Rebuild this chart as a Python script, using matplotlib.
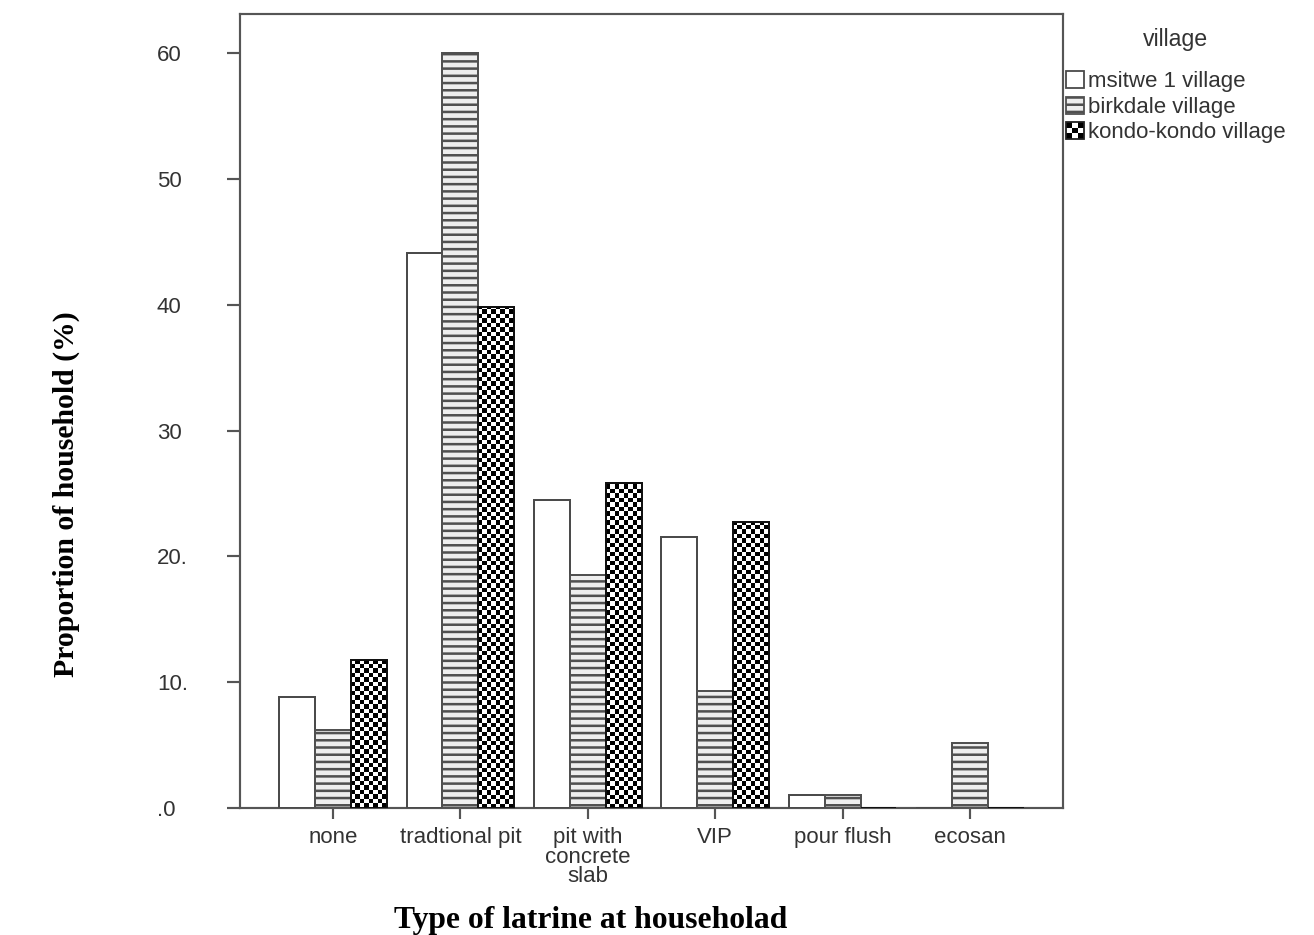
"""Latrine type by village, grouped bar chart (SPSS style)."""

import matplotlib
matplotlib.use("Agg")
import matplotlib.pyplot as plt
import numpy as np
from matplotlib.colors import ListedColormap
from matplotlib.legend_handler import HandlerBase
from matplotlib.patches import Patch, Rectangle

categories = ["none", "tradtional pit", "pit with\nconcrete\nslab", "VIP",
              "pour flush", "ecosan"]
villages = ["msitwe 1 village", "birkdale village", "kondo-kondo village"]
msitwe = [8.8, 44.1, 24.5, 21.5, 1.0, 0.0]
birkdale = [6.2, 60.0, 18.5, 9.3, 1.0, 5.2]
kondo = [11.8, 39.8, 25.8, 22.7, 0.0, 0.0]
ytick_vals = [0, 10, 20, 30, 40, 50, 60]
ytick_text = [".0", "10.", "20.", "30", "40", "50", "60"]

DPI = 130
EDGE = "#4a4a4a"
TXT = "#333333"
SANS = "Liberation Sans"
SERIF = "Liberation Serif"

plt.rcParams["hatch.linewidth"] = 1.4
plt.rcParams["font.family"] = SANS


class CheckerHandler(HandlerBase):
    def create_artists(self, legend, orig_handle, xdescent, ydescent,
                       width, height, fontsize, trans):
        n = 3
        cw, ch = width / n, height / n
        out = []
        for i in range(n):
            for j in range(n):
                c = "black" if (i + j) % 2 == 0 else "white"
                out.append(Rectangle((-xdescent + i * cw, -ydescent + j * ch), cw, ch,
                                     facecolor=c, edgecolor="none", transform=trans))
        out.append(Rectangle((-xdescent, -ydescent), width, height, facecolor="none",
                             edgecolor="#222222", linewidth=1.0, transform=trans))
        return out


fig = plt.figure(figsize=(1314 / DPI, 935 / DPI), dpi=DPI)
ax = fig.add_axes([240 / 1314, 1 - 808 / 935, 823 / 1314, 794 / 935])

x = np.arange(len(categories))
w = 0.282
ax.set_xlim(-0.73, 5.73)
ax.set_ylim(0, 63.1)

ax.bar(x - w, msitwe, w, facecolor="white", edgecolor=EDGE, linewidth=1.1, zorder=3)
ax.bar(x, birkdale, w, facecolor="#eeeeee", edgecolor="#505050", hatch="---",
       linewidth=1.1, zorder=3)
kbars = ax.bar(x + w, kondo, w, facecolor="none", edgecolor="#111111",
               linewidth=1.1, zorder=4)

# checkerboard fill for kondo-kondo bars
cmap = ListedColormap(["white", "black"])
for b in kbars:
    h = b.get_height()
    if h <= 0:
        continue
    x0, bw = b.get_x(), b.get_width()
    p0 = ax.transData.transform((x0, 0))
    p1 = ax.transData.transform((x0 + bw, h))
    ncols = 8
    cell = (p1[0] - p0[0]) / ncols
    nrows = max(1, int(round((p1[1] - p0[1]) / cell)))
    ii, jj = np.indices((nrows, ncols))
    top = nrows * cell / (p1[1] - p0[1]) * h
    img = ax.imshow((ii + jj) % 2, cmap=cmap, origin="lower", aspect="auto",
                    interpolation="nearest", extent=(x0, x0 + bw, 0, top), zorder=3)
    img.set_clip_path(b)
ax.set_xlim(-0.73, 5.73)
ax.set_ylim(0, 63.1)

for s in ax.spines.values():
    s.set_color("#555555")
    s.set_linewidth(1.2)

ax.set_xticks(x)
ax.set_xticklabels(categories, fontsize=12.3, color=TXT, linespacing=0.92)
ax.set_yticks(ytick_vals)
ax.set_yticklabels(ytick_text, fontsize=12.3, color=TXT, ha="left")
ax.tick_params(axis="y", length=7, width=1.2, color="#555555", pad=39)
ax.tick_params(axis="x", length=6, width=1.2, color="#555555", pad=4.5)

ax.set_xlabel("Type of latrine at householad", fontsize=17.5, fontweight="bold",
              family=SERIF)
ax.xaxis.set_label_coords((591 - 240) / 823, (808 - 906) / 794)
ax.set_ylabel("Proportion of household (%)", fontsize=16.5, fontweight="bold",
              family=SERIF)
ax.yaxis.set_label_coords((80 - 240) / 823, (808 - 494) / 794)

handles = [
    Patch(facecolor="white", edgecolor=EDGE, linewidth=1.0),
    Patch(facecolor="#eeeeee", edgecolor="#505050", hatch="---", linewidth=1.0),
    Patch(facecolor="white", edgecolor="black"),
]
leg = fig.legend(handles, villages, loc="upper left",
                 bbox_to_anchor=(1066 / 1314, 1 - 28 / 935), frameon=False,
                 fontsize=12.3, title="village", title_fontsize=12.8,
                 handlelength=0.8, handleheight=0.8, handletextpad=0.2,
                 labelspacing=0.2, borderpad=0, borderaxespad=0,
                 handler_map={handles[2]: CheckerHandler()})
leg._legend_box.sep = 11
for t in leg.get_texts():
    t.set_color(TXT)
leg.get_title().set_color(TXT)

fig.savefig("out.png", dpi=DPI)
